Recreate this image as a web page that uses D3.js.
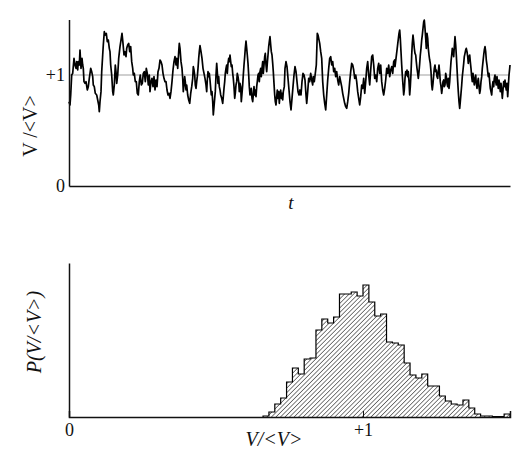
<!DOCTYPE html>
<html>
<head>
<meta charset="utf-8">
<script src="https://cdn.jsdelivr.net/npm/d3@7"></script>
<style>
  body { margin: 0; background: #fff; }
  svg { display: block; }
  text { font-family: "Liberation Serif", "DejaVu Serif", serif; fill: #111; }
</style>
</head>
<body>
<svg width="531" height="468"></svg>
<script>

// time trace of V/<V>, pairs of [t, value]
var trace = [
	[0,0.76],[1,0.73],[1.7,0.82],[2.7,1.0],[3.7,1.015],[5,1.15],[6,1.09],[7,1.06],[7.7,1.12],[8.7,1.045],
	[9.3,1.12],[10.3,1.09],[11,1.225],[12,1.06],[13,1.15],[13.7,1.09],[14.3,1.06],[15,0.94],[16,0.925],[17,0.94],
	[18.3,0.865],[19.3,0.895],[20.3,0.97],[21.7,1.06],[22.7,1.03],[23.7,0.985],[24.3,0.91],[25.3,0.895],[26.3,0.835],[27.7,0.82],
	[28.7,0.775],[29.7,0.73],[30.3,0.67],[31,0.76],[32,0.85],[32.7,1.03],[33.7,1.18],[34.3,1.27],[35.3,1.39],[36.3,1.36],
	[37.3,1.375],[38.3,1.3],[39.3,1.315],[40.3,1.24],[41,1.21],[41.7,1.09],[42.7,1.0],[43.7,0.85],[44.3,0.82],[45.3,0.91],
	[46.3,1.09],[47,1.03],[47.7,0.925],[48.7,1.0],[49.7,1.15],[51,1.255],[52,1.315],[53,1.375],[54,1.285],[55,1.18],
	[56,1.21],[57,1.165],[57.7,1.24],[58.7,1.27],[59.7,1.285],[60.7,1.21],[61.7,1.255],[62.7,1.12],[63.7,1.06],[64.3,1.0],
	[65.3,1.015],[66.3,0.94],[67.3,0.94],[68.3,0.835],[69.3,0.82],[70.3,0.94],[71.3,1.0],[72.3,0.91],[73.3,0.925],[74.3,1.015],
	[75.3,1.03],[76.3,0.94],[77.3,1.06],[78.3,1.015],[79.3,0.91],[80.3,1.0],[81,0.85],[82,0.94],[83,0.97],[84,0.895],
	[85,0.985],[86,0.865],[87,0.955],[88,0.895],[89,1.03],[90,1.06],[91,1.135],[92,1.12],[93,1.09],[94,1.015],
	[95,0.97],[96,0.94],[97,0.94],[98,0.865],[99,0.82],[100,0.835],
	[101,0.79],[102,0.85],[103,0.94],[104,1.045],[105,1.12],[106,1.165],[107,1.09],[107.7,1.15],[108.7,1.06],[109.7,1.21],
	[110.3,1.285],[111,1.24],[112,1.12],[113,1.06],[113.7,0.97],[114.3,0.85],[115,0.91],[115.7,0.985],[116.3,0.94],[117,0.865],
	[117.7,0.91],[118.7,0.82],[119.7,0.775],[120.7,0.745],[121.7,0.835],[122.7,0.895],[123.7,0.97],[124.3,1.075],[125,1.045],[125.7,1.0],
	[126.3,0.91],[127,0.88],[127.7,0.94],[128.3,0.985],[129,1.06],[129.7,1.15],[130.3,1.21],[131,1.264],[132,1.21],[133,1.15],
	[134,1.06],[135,1.015],[136,0.97],[137,0.91],[137.7,0.85],[138.3,0.955],[139,1.03],[139.7,0.985],[140.3,1.015],[141,0.955],
	[141.7,0.88],[142.3,0.82],[143,0.85],[143.7,0.76],[144.3,0.64],[145,0.715],[145.7,0.79],[146.3,0.85],[147,1.0],[147.7,1.105],
	[148.3,1.03],[149,0.925],[149.7,0.985],[150.3,0.895],[151,0.865],[151.7,0.82],[152.7,0.79],[153.7,0.745],[154.3,0.805],[155,0.88],
	[155.7,0.94],[156.3,1.015],[157,1.06],[157.7,1.09],[158.3,1.015],[159,1.105],[159.7,1.15],[160.3,1.12],[161,1.18],[161.7,1.12],
	[162.3,1.075],[163,1.09],[163.7,1.015],[164.3,0.97],[165,0.895],[165.7,0.79],[166.3,0.835],[167,0.91],[167.7,0.94],[168.3,1.015],
	[169,0.985],[169.7,0.94],[170.3,0.85],[171,0.925],[171.7,0.895],[172.3,0.76],[173,0.835],[173.7,0.91],[174.3,1.0],[175,1.09],
	[175.7,1.165],[176.3,1.24],[177,1.306],[177.7,1.24],[178.3,1.18],[179,1.105],[179.7,1.0],[180.3,0.895],[181,0.82],[181.7,0.85],
	[182.3,0.88],[183,0.79],[183.7,0.76],[184.3,0.82],[185,0.895],[185.7,0.82],[186.3,0.865],[187,0.805],[187.7,0.895],[188.3,0.94],
	[189,1.0],[189.7,1.015],[190.3,0.94],[191,1.03],[191.7,1.06],[192.3,0.985],[193,1.06],[193.7,1.12],[194.3,1.015],[195,1.09],
	[195.7,1.165],[196.3,1.195],[197,1.09],[197.7,1.03],[198.3,1.105],[199,1.18],[199.7,1.255],[200.3,1.3],[201,1.345],[201.7,1.27],
	[202.3,1.21],[203,1.18],[203.7,1.105],[204.3,1.03],[205,0.925],[205.7,0.82],[206.3,0.76],[207,0.73],[207.7,0.805],[208.3,0.865],
	[209,0.79],[209.7,0.85],[210.3,0.745],[211,0.82],[211.7,0.865],[212.3,0.79],[213,0.835],[213.7,0.775],[214.3,0.85],[215.3,0.895],
	[216,1.06],[217,1.12],[218,1.075],[219,0.97],[220,0.865],[221,0.76],[222,0.685],[223,0.79],[224,0.895],[225,1.0],
	[226,1.075],[227,1.03],[228,0.94],[229,0.85],[230,0.82],[231,0.865],[232,0.82],[233,0.94],[234,1.015],[235,1.0],
	[236,0.955],[237,0.82],[237.7,0.745],[238.7,0.85],[239.7,0.97],[240.7,0.94],[241.7,1.015],[242.7,0.955],[243.7,0.91],[244.3,0.985],
	[245.3,0.94],[246.3,1.015],[247.3,1.09],[248.3,1.375],[249,1.36],[249.7,1.33],[250.7,1.285],[251.7,1.21],[252.7,1.15],[253.7,0.94],
	[254.7,0.82],[255.7,0.745],[256.7,0.685],[257.7,0.82],[258.7,0.955],[259.7,1.06],[260.7,1.15],[261.7,1.165],[262.7,1.09],[263.7,1.12],
	[264.7,1.03],[265.7,1.06],[266.7,0.985],[267.7,1.03],[268.7,0.955],[269.7,0.91],[270.7,0.985],[271.7,0.94],[272.7,0.895],[273.7,0.835],
	[274.7,0.79],[275.7,0.745],[276.7,0.715],[277.7,0.7],[278.7,0.76],[279.7,0.835],[280.7,0.94],[281.7,1.03],[282.7,1.105],[283.7,1.09],
	[284.7,1.045],[285.7,0.97],[286.7,1.0],[287.7,0.94],[288.7,0.85],[289.7,0.79],[290.7,0.73],[291.7,0.805],[292.7,0.91],[293.7,0.88],
	[294.7,0.97],[295.7,0.835],[296.7,0.94],[297.7,1.06],[298.7,1.12],[299.7,1.0],[300.7,0.91],[301.7,1.045],[302.7,1.165],[303.7,1.18],
	[304.7,1.09],[305.7,0.97],[306.7,1.0],[307.7,0.94],[308.7,1.06],[309.7,1.105],[310.7,1.015],[311.7,1.09],[312.7,0.94],[313.7,0.865],
	[314.7,0.82],[315.7,0.88],[316.7,0.955],[317.7,1.06],[318.7,1.015],[319.7,1.09],[320.7,0.985],[321.7,1.045],[322.7,1.075],[323.7,1.015],
	[324.7,1.12],[325.7,1.135],
	[326,1.075],[327,1.15],[328,1.225],[329,1.3],[330,1.375],[330.7,1.405],[331.3,1.33],[332,1.21],[332.7,1.09],[333.3,1.0],
	[334,0.91],[334.7,0.82],[335.3,0.865],[336,0.97],[336.7,1.03],[337.3,1.0],[338,1.045],[338.7,0.985],[339.3,1.03],[340,0.94],
	[340.7,0.82],[341.3,0.895],[342,1.015],[342.7,1.18],[343.3,1.285],[344,1.36],[344.7,1.3],[345.3,1.24],[346,1.195],[346.7,1.18],
	[347.3,1.12],[348,1.06],[348.7,1.015],[349.3,0.97],[350,1.03],[350.7,1.105],[351.3,1.18],[352,1.24],[352.7,1.315],[353.3,1.36],
	[354,1.42],[354.7,1.48],[355.3,1.495],[356,1.42],[356.7,1.33],[357.3,1.24],[358,1.375],[358.7,1.33],[359.3,1.24],[360,1.18],
	[360.7,1.135],[361.3,1.105],[362,1.03],[362.7,0.91],[363.3,0.865],[364,0.925],[364.7,1.0],[365.3,1.06],[366,1.09],[366.7,1.03],
	[367.3,1.045],[368,0.985],[368.7,0.97],[369.3,1.03],[370,1.09],[370.7,1.015],[371.3,0.94],[372,0.895],[372.7,0.835],[373.3,0.88],
	[374,0.94],[374.7,0.955],[375.3,0.895],[376,0.91],[376.7,1.015],[377.3,0.985],[378,0.925],[378.7,0.895],[379.3,0.97],[380,0.88],
	[380.7,0.94],[381.3,1.03],[382,1.12],[382.7,1.18],[383.3,1.24],[384,1.21],[384.7,1.165],[385.3,1.255],[386,1.345],[386.7,1.27],
	[387.3,1.18],[388,1.06],[388.7,0.94],[389.3,0.85],[390,0.76],[390.7,0.7],[391.3,0.76],[392,0.835],[392.7,0.91],[393.3,0.985],
	[394,1.045],[394.7,1.105],[395.3,1.165],[396,1.195],[396.7,1.225],[397.3,1.24],[398,1.21],[398.7,1.165],[399.3,1.105],[400,1.165],
	[400.7,1.18],[401.3,1.12],[402,1.06],[402.7,0.985],[403.3,0.94],[404,1.015],[404.7,0.955],[405.3,0.91],[406,0.97],[406.7,1.0],
	[407.3,0.925],[408,0.88],[408.7,0.94],[409.3,0.97],[410,0.895],[410.7,0.835],[411.3,0.865],[412,0.94],[412.7,0.985],[413.3,1.06],
	[414,1.12],[414.7,1.18],[415.3,1.225],[416,1.255],[416.7,1.21],[417.3,1.135],[418,1.09],[418.7,1.03],[419.3,0.985],[420,1.015],
	[420.7,0.94],[421.3,0.88],[422,0.85],[422.7,0.82],[423.3,0.895],[424,0.94],[424.7,0.895],[425.3,0.97],[426,1.0],[426.7,0.94],
	[427.3,0.91],[428,0.985],[428.7,0.925],[429.3,0.88],[430,0.955],[430.7,0.91],[431.3,0.85],[432,0.925],[432.7,0.865],[433.3,0.79],
	[434,0.865],[434.7,0.94],[435.3,0.895],[436,0.955],[436.7,0.895],[437.3,0.865],[438,0.925],[438.7,0.805],[439.3,0.895],[440,1.0],
	[440.7,1.06],[441,1.09]
];
var tMax = 441;

// histogram of V/<V>: bins of 0.02 starting at 0.66 (heights in arbitrary units)
var binStart = 0.66;
var binWidth = 0.02;
var binCounts = [1, 5, 13, 19, 35, 49, 43, 58, 59, 87, 98, 94, 100, 123, 123, 125, 121, 132, 115, 101,
	103, 75, 74, 72, 54, 42, 39, 43, 31, 31, 21, 16, 13, 12, 17, 9, 3, 1, 1, 0.5, 0.5, 3];
var countMax = 154;

var topTicks = [0, 1];
var topTickLabels = ["0", "+1"];
var histTicks = [0, 1];
var histTickLabels = ["0", "+1"];


var svg = d3.select("svg");

// ---------- top panel: time trace ----------
var xT = d3.scaleLinear().domain([0, tMax]).range([69, 510]);
var yT = d3.scaleLinear().domain([0, 1.5]).range([186, 19.5]);

var tracePanel = svg.append("g").attr("class", "trace");

// reference line at the mean
tracePanel.append("line")
		.attr("x1", xT(0)).attr("x2", xT(tMax))
		.attr("y1", yT(1)).attr("y2", yT(1))
		.attr("stroke", "#a0a0a0")
		.attr("stroke-width", 1.2);

var line = d3.line()
		.x(function(d) { return xT(d[0]); })
		.y(function(d) { return yT(d[1]); });

tracePanel.append("path")
		.datum(trace)
		.attr("fill", "none")
		.attr("stroke", "#000")
		.attr("stroke-width", 1.7)
		.attr("stroke-linejoin", "round")
		.attr("d", line);

tracePanel.append("g")
		.attr("transform", "translate(" + xT(0) + ",0)")
		.call(d3.axisLeft(yT).tickValues(topTicks).tickSize(0).tickPadding(4)
			.tickFormat(function(d, i) { return topTickLabels[i]; }))
		.call(function(g) {
			g.select(".domain").attr("stroke", "#111").attr("stroke-width", 1.5);
			g.selectAll("text").attr("font-size", 18).attr("font-family", "Liberation Serif").attr("fill", "#111");
		});

tracePanel.append("g")
		.attr("transform", "translate(0," + yT(0) + ")")
		.call(d3.axisBottom(xT).tickValues([]).tickSize(0))
		.select(".domain").attr("stroke", "#111").attr("stroke-width", 1.5);

tracePanel.append("text")
		.attr("x", 291).attr("y", 209)
		.attr("text-anchor", "middle")
		.attr("font-size", 19)
		.attr("font-style", "italic")
		.text("t");

tracePanel.append("text")
		.attr("transform", "translate(37,126) rotate(-90)")
		.attr("text-anchor", "middle")
		.attr("font-size", 20)
		.text("V /<V>");

// ---------- bottom panel: histogram ----------
var xH = d3.scaleLinear().domain([0, 1.5]).range([69, 510]);
var yH = d3.scaleLinear().domain([0, countMax]).range([417, 263]);

var defs = svg.append("defs");
var hatch = defs.append("pattern")
		.attr("id", "hatch")
		.attr("patternUnits", "userSpaceOnUse")
		.attr("width", 3.2)
		.attr("height", 3.2)
		.attr("patternTransform", "rotate(45)");
hatch.append("line")
		.attr("x1", 0).attr("y1", 0)
		.attr("x2", 0).attr("y2", 3.2)
		.attr("stroke", "#000")
		.attr("stroke-width", 1);

var bins = binCounts.map(function(c, i) {
	return { x0: binStart + i * binWidth, c: c };
});
var stepPts = bins.slice();
stepPts.push({ x0: binStart + bins.length * binWidth, c: bins[bins.length - 1].c });

var hist = svg.append("g").attr("class", "hist");

hist.append("path")
		.datum(stepPts)
		.attr("fill", "url(#hatch)")
		.attr("d", d3.area()
			.curve(d3.curveStepAfter)
			.x(function(d) { return xH(d.x0); })
			.y0(yH(0))
			.y1(function(d) { return yH(d.c); }));

var outline = [{ x0: binStart, c: 0 }].concat(stepPts, [{ x0: stepPts[stepPts.length - 1].x0, c: 0 }]);
hist.append("path")
		.datum(outline)
		.attr("fill", "none")
		.attr("stroke", "#000")
		.attr("stroke-width", 1.2)
		.attr("d", d3.line()
			.curve(d3.curveStepAfter)
			.x(function(d) { return xH(d.x0); })
			.y(function(d) { return yH(d.c); }));

hist.append("g")
		.attr("transform", "translate(" + xH(0) + ",0)")
		.call(d3.axisLeft(yH).tickValues([]).tickSize(0))
		.select(".domain").attr("stroke", "#111").attr("stroke-width", 1.5);

hist.append("g")
		.attr("transform", "translate(0," + yH(0) + ")")
		.call(d3.axisBottom(xH).tickValues(histTicks).tickSize(-6).tickPadding(6)
			.tickFormat(function(d, i) { return histTickLabels[i]; }))
		.call(function(g) {
			g.select(".domain").attr("stroke", "#111").attr("stroke-width", 1.5);
			g.selectAll(".tick line").attr("stroke", function(d) { return d === 0 ? "none" : "#111"; });
			g.selectAll("text").attr("font-size", 18).attr("font-family", "Liberation Serif").attr("fill", "#111");
		});

hist.append("text")
		.attr("x", 274).attr("y", 446)
		.attr("text-anchor", "middle")
		.attr("font-size", 20)
		.attr("font-style", "italic")
		.text("V/<V>");

hist.append("text")
		.attr("transform", "translate(41,332) rotate(-90)")
		.attr("text-anchor", "middle")
		.attr("font-size", 20)
		.attr("font-style", "italic")
		.text("P(V/<V>)");

</script>
</body>
</html>
